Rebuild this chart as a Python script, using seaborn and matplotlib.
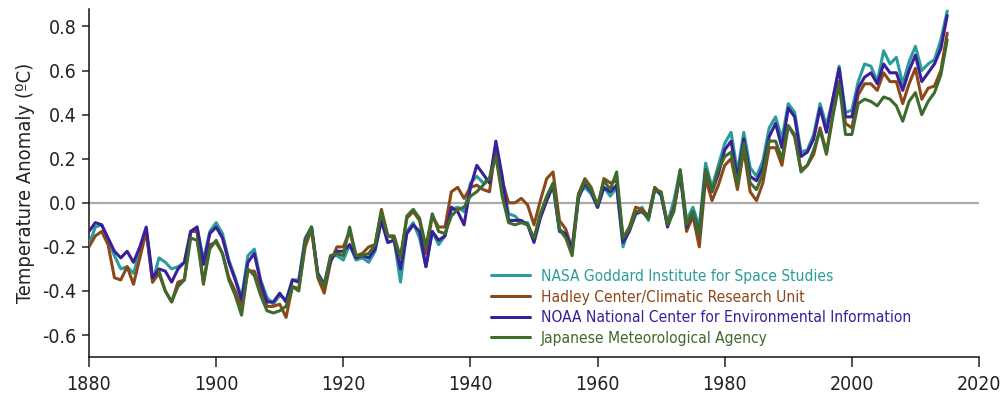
import numpy as np
import pandas as pd
import matplotlib
matplotlib.use("Agg")
import matplotlib.pyplot as plt
import seaborn as sns

years = list(range(1880, 2016))
jma_years = list(range(1891, 2016))

nasa = [-0.19, -0.11, -0.10, -0.17, -0.24, -0.30, -0.29, -0.32, -0.22, -0.12,
        -0.36, -0.25, -0.27, -0.30, -0.29, -0.27, -0.13, -0.11, -0.26, -0.13,
        -0.09, -0.14, -0.26, -0.34, -0.43, -0.24, -0.21, -0.35, -0.43, -0.46,
        -0.42, -0.44, -0.35, -0.35, -0.16, -0.11, -0.33, -0.37, -0.24, -0.24,
        -0.26, -0.19, -0.26, -0.25, -0.27, -0.22, -0.08, -0.18, -0.17, -0.36,
        -0.13, -0.09, -0.16, -0.29, -0.13, -0.19, -0.15, -0.03, -0.02, -0.04,
        0.09, 0.12, 0.09, 0.11, 0.25, 0.10, -0.05, -0.06, -0.09, -0.09,
        -0.17, -0.05, 0.01, 0.08, -0.12, -0.14, -0.20, 0.04, 0.07, 0.04,
        -0.02, 0.07, 0.03, 0.07, -0.20, -0.11, -0.05, -0.02, -0.08, 0.07,
        0.03, -0.09, 0.01, 0.15, -0.08, -0.02, -0.11, 0.18, 0.07, 0.17,
        0.27, 0.32, 0.14, 0.32, 0.16, 0.12, 0.19, 0.34, 0.39, 0.29,
        0.45, 0.41, 0.23, 0.24, 0.31, 0.45, 0.35, 0.47, 0.62, 0.41,
        0.42, 0.55, 0.63, 0.62, 0.55, 0.69, 0.63, 0.66, 0.54, 0.64,
        0.71, 0.60, 0.63, 0.65, 0.74, 0.87]

hadley = [-0.20, -0.15, -0.13, -0.19, -0.34, -0.35, -0.29, -0.37, -0.25, -0.13,
          -0.36, -0.32, -0.40, -0.45, -0.36, -0.35, -0.13, -0.13, -0.37, -0.19,
          -0.18, -0.23, -0.34, -0.40, -0.47, -0.31, -0.31, -0.39, -0.47, -0.47,
          -0.46, -0.52, -0.38, -0.39, -0.20, -0.12, -0.34, -0.41, -0.27, -0.20,
          -0.20, -0.13, -0.24, -0.23, -0.20, -0.19, -0.03, -0.15, -0.15, -0.25,
          -0.07, -0.04, -0.08, -0.23, -0.06, -0.11, -0.11, 0.05, 0.07, 0.02,
          0.07, 0.08, 0.06, 0.05, 0.26, 0.10, 0.00, 0.00, 0.02, -0.01,
          -0.10, 0.01, 0.11, 0.14, -0.08, -0.12, -0.21, 0.04, 0.11, 0.07,
          -0.02, 0.11, 0.09, 0.10, -0.16, -0.11, -0.02, -0.03, -0.06, 0.07,
          0.04, -0.10, -0.02, 0.14, -0.13, -0.06, -0.20, 0.11, 0.01, 0.08,
          0.17, 0.20, 0.06, 0.24, 0.05, 0.01, 0.09, 0.25, 0.25, 0.17,
          0.35, 0.30, 0.15, 0.17, 0.22, 0.34, 0.23, 0.40, 0.55, 0.36,
          0.34, 0.49, 0.54, 0.54, 0.51, 0.59, 0.55, 0.55, 0.45, 0.54,
          0.61, 0.47, 0.52, 0.53, 0.60, 0.77]

noaa = [-0.13, -0.09, -0.10, -0.16, -0.22, -0.25, -0.22, -0.27, -0.20, -0.11,
        -0.34, -0.30, -0.31, -0.36, -0.30, -0.27, -0.13, -0.11, -0.28, -0.14,
        -0.11, -0.16, -0.27, -0.35, -0.44, -0.27, -0.23, -0.36, -0.45, -0.45,
        -0.41, -0.45, -0.35, -0.36, -0.17, -0.11, -0.32, -0.37, -0.26, -0.22,
        -0.22, -0.19, -0.25, -0.24, -0.25, -0.21, -0.08, -0.18, -0.17, -0.30,
        -0.14, -0.10, -0.13, -0.29, -0.13, -0.17, -0.15, -0.02, -0.04, -0.10,
        0.07, 0.17, 0.13, 0.09, 0.28, 0.12, -0.08, -0.08, -0.08, -0.10,
        -0.18, -0.07, 0.01, 0.08, -0.13, -0.14, -0.22, 0.02, 0.09, 0.05,
        -0.02, 0.07, 0.05, 0.08, -0.18, -0.13, -0.05, -0.04, -0.07, 0.06,
        0.04, -0.11, -0.03, 0.13, -0.11, -0.04, -0.14, 0.15, 0.05, 0.13,
        0.24, 0.28, 0.11, 0.29, 0.12, 0.10, 0.16, 0.30, 0.36, 0.25,
        0.43, 0.39, 0.21, 0.23, 0.29, 0.43, 0.32, 0.47, 0.61, 0.39,
        0.39, 0.52, 0.57, 0.59, 0.54, 0.63, 0.59, 0.59, 0.51, 0.60,
        0.67, 0.55, 0.59, 0.63, 0.70, 0.85]

jma = [-0.31, -0.40, -0.45, -0.38, -0.35, -0.16, -0.17, -0.36, -0.21,
       -0.17, -0.23, -0.35, -0.42, -0.51, -0.30, -0.33, -0.42, -0.49, -0.50,
       -0.49, -0.47, -0.38, -0.40, -0.18, -0.11, -0.33, -0.38, -0.24, -0.23,
       -0.24, -0.11, -0.24, -0.24, -0.23, -0.19, -0.04, -0.15, -0.16, -0.25,
       -0.06, -0.03, -0.07, -0.20, -0.05, -0.13, -0.14, -0.06, -0.03, -0.02,
       0.03, 0.05, 0.08, 0.11, 0.21, 0.03, -0.09, -0.10, -0.09, -0.10,
       -0.16, -0.05, 0.03, 0.09, -0.12, -0.16, -0.24, 0.03, 0.10, 0.06,
       -0.01, 0.10, 0.06, 0.14, -0.16, -0.12, -0.04, -0.04, -0.07, 0.06,
       0.05, -0.10, -0.04, 0.15, -0.10, -0.04, -0.15, 0.15, 0.05, 0.15,
       0.21, 0.23, 0.08, 0.27, 0.09, 0.06, 0.13, 0.28, 0.28, 0.20,
       0.35, 0.31, 0.14, 0.17, 0.24, 0.33, 0.22, 0.39, 0.54, 0.31,
       0.31, 0.45, 0.47, 0.46, 0.44, 0.48, 0.47, 0.44, 0.37, 0.46,
       0.50, 0.40, 0.46, 0.50, 0.58, 0.74]

labels = ["NASA Goddard Institute for Space Studies",
          "Hadley Center/Climatic Research Unit",
          "NOAA National Center for Environmental Information",
          "Japanese Meteorological Agency"]
colors = ["#2a9d9b", "#8b4819", "#3a1f9a", "#3e6a2b"]

x_ticks = [1880, 1900, 1920, 1940, 1960, 1980, 2000, 2020]
y_ticks = [-0.6, -0.4, -0.2, 0.0, 0.2, 0.4, 0.6, 0.8]

sns.set_style("ticks")
plt.rcParams["font.family"] = ["DejaVu Sans"]
plt.rcParams["font.stretch"] = "condensed"

fig = plt.figure(figsize=(10, 4.03), dpi=100)
ax = fig.add_axes([0.089, 0.114, 0.89, 0.864])

ax.axhline(0, color="#aaaaaa", lw=1.6, zorder=1)

series = [(years, nasa), (years, hadley), (years, noaa), (jma_years, jma)]
for (xs, ys), lab, col in zip(series, labels, colors):
    df = pd.DataFrame({"year": xs, "anomaly": ys})
    sns.lineplot(data=df, x="year", y="anomaly", ax=ax, color=col, lw=2.2,
                 label=lab, zorder=3)

ax.set_xlim(1880, 2020)
ax.set_ylim(-0.70, 0.88)
ax.set_xticks(x_ticks)
ax.set_xticklabels([str(t) for t in x_ticks])
ax.set_yticks(y_ticks)
ax.set_yticklabels([f"{t:.1f}" for t in y_ticks])
ax.tick_params(axis="both", labelsize=14, colors="#222222", width=1.1)
ax.tick_params(axis="x", length=7, pad=6)
ax.tick_params(axis="y", length=5, pad=4)
ax.set_xlabel("")
ax.set_ylabel("Temperature Anomaly (ºC)", fontsize=14.5, color="#222222", labelpad=5)
for s in ["top", "right"]:
    ax.spines[s].set_visible(False)
for s in ["left", "bottom"]:
    ax.spines[s].set_linewidth(1.1)
    ax.spines[s].set_color("#111111")

leg = ax.legend(loc="upper left", bbox_to_anchor=(0.483, 0.352), bbox_transform=fig.transFigure,
                frameon=False, fontsize=11.2, handlelength=2.5, handletextpad=0.7,
                labelspacing=0.36, borderpad=0, labelcolor="linecolor")
for h in leg.legend_handles:
    h.set_linewidth(2.2)

fig.savefig("out.png", dpi=100)
